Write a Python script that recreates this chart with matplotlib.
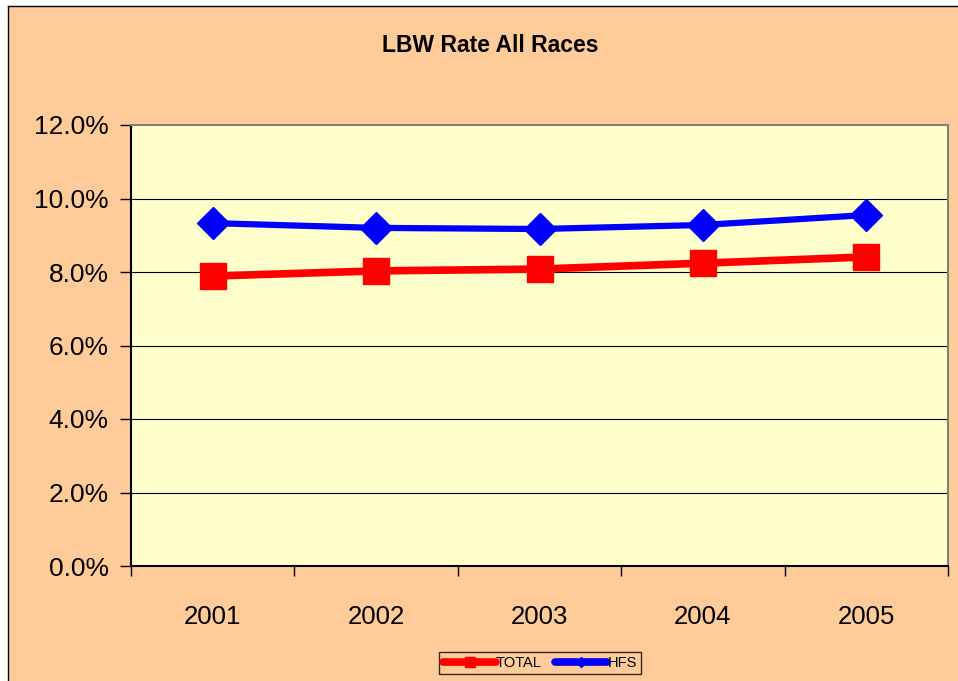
import matplotlib
matplotlib.use("Agg")
import matplotlib.pyplot as plt
from matplotlib.patches import Rectangle
from matplotlib.ticker import FuncFormatter, FixedLocator

years = ["2001", "2002", "2003", "2004", "2005"]
total = [7.89, 8.03, 8.08, 8.24, 8.41]
hfs = [9.33, 9.20, 9.17, 9.28, 9.55]
yticks = [0, 2, 4, 6, 8, 10, 12]

plt.rcParams['font.family'] = ['Liberation Sans', 'DejaVu Sans']

W, H = 958, 681
fig = plt.figure(figsize=(W / 100, H / 100), dpi=100)
fig.patch.set_facecolor('white')
bg = Rectangle((8 / W, 0), 1 - 8 / W, 1 - 6 / H, transform=fig.transFigure,
               facecolor='#FFCC99', edgecolor='none', zorder=-10)
fig.patches.append(bg)
fig.add_artist(plt.Line2D([8 / W, 8 / W], [0, 1 - 6 / H], transform=fig.transFigure, color='black', lw=1))
fig.add_artist(plt.Line2D([8 / W, 1], [1 - 6 / H, 1 - 6 / H], transform=fig.transFigure, color='black', lw=1))

left, right, top, bottom = 131, 948, 125, 566
ax = fig.add_axes([left / W, 1 - bottom / H, (right - left) / W, (bottom - top) / H])
ax.set_facecolor('#FFFFCC')

x = list(range(len(years)))
ax.plot(x, total, color='#FF0000', lw=5.5, marker='s', markersize=19, label='TOTAL',
        solid_capstyle='round', zorder=3)
ax.plot(x, hfs, color='#0000FF', lw=4.5, marker='D', markersize=16, label='HFS',
        solid_capstyle='round', zorder=4)

ax.set_xlim(-0.5, len(years) - 0.5)
ax.set_ylim(0, 12)
ax.yaxis.set_major_locator(FixedLocator(yticks))
ax.yaxis.set_major_formatter(FuncFormatter(lambda v, p: f"{v:.1f}%"))
for yv in yticks[1:-1]:
    ax.axhline(yv, color='black', lw=0.8, zorder=1)

ax.set_xticks(x)
ax.set_xticklabels(years)
ax.set_xticks([i - 0.5 for i in range(len(years) + 1)], minor=True)
ax.tick_params(axis='x', which='major', length=0, pad=28, labelsize=18.5)
ax.tick_params(axis='x', which='minor', length=7, width=1, direction='out')
ax.tick_params(axis='y', length=8, width=1, direction='out', labelsize=19, pad=8)

for s in ['left', 'bottom']:
    ax.spines[s].set_color('black')
    ax.spines[s].set_linewidth(1.5)
for s in ['top', 'right']:
    ax.spines[s].set_color('#808080')
    ax.spines[s].set_linewidth(1.5)

fig.text(490 / W, 1 - 45 / H, "LBW Rate All Races", ha='center', va='center',
         fontsize=16.5, fontweight='bold')

leg = fig.legend(loc='center', bbox_to_anchor=(540 / W, 1 - 663 / H), ncol=2, frameon=True,
                 fontsize=10.5, handlelength=3.6, handletextpad=0.0, columnspacing=0.9,
                 borderpad=0.3, markerscale=0.35, fancybox=False, borderaxespad=0)
leg.get_frame().set_edgecolor('black')
leg.get_frame().set_facecolor('none')
leg.get_frame().set_linewidth(1)
for h in leg.get_lines():
    h.set_linewidth(5.5)

fig.savefig('out.png', dpi=100, facecolor=fig.get_facecolor())
